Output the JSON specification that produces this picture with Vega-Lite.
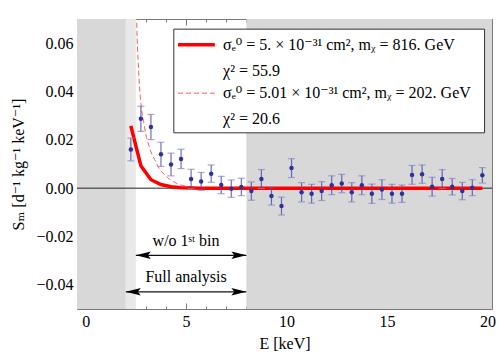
{
  "$schema": "https://vega.github.io/schema/vega-lite/v6.json",
  "width": 415,
  "height": 290,
  "autosize": {"type": "none"},
  "padding": {"left": 77, "top": 19, "right": 6, "bottom": 47},
  "config": {
    "view": {"stroke": null},
    "font": "Liberation Serif, DejaVu Serif, serif",
    "axis": {
      "grid": false,
      "domainColor": "#7a7a7a",
      "tickColor": "#7a7a7a",
      "labelColor": "black",
      "titleColor": "black",
      "labelFont": "Liberation Serif, DejaVu Serif, serif",
      "titleFont": "Liberation Serif, DejaVu Serif, serif",
      "labelFontSize": 16,
      "titleFontSize": 16,
      "titleFontWeight": "normal",
      "labelFlush": false,
      "labelOverlap": false,
      "labelBound": false,
      "zindex": 2
    }
  },
  "datasets": {
    "bands": [
      {"x": -0.43, "x2": 2, "y": -0.05, "y2": 0.07, "zone": "excluded"},
      {"x": 2, "x2": 2.5, "y": -0.05, "y2": 0.07, "zone": "first bin"},
      {"x": 8, "x2": 20.23, "y": -0.05, "y2": 0.07, "zone": "excluded"}
    ],
    "zero": [{"x": -0.43, "x2": 20.23, "y": 0}],
    "data": [
      {"x": 2.25, "y": 0.016, "lo": 0.0113, "hi": 0.0207},
      {"x": 2.75, "y": 0.0287, "lo": 0.0235, "hi": 0.0339},
      {"x": 3.25, "y": 0.0253, "lo": 0.0201, "hi": 0.0305},
      {"x": 3.75, "y": 0.014, "lo": 0.009, "hi": 0.019},
      {"x": 4.25, "y": 0.0098, "lo": 0.0051, "hi": 0.0145},
      {"x": 4.75, "y": 0.0121, "lo": 0.0081, "hi": 0.0161},
      {"x": 5.25, "y": 0.0038, "lo": -0.0002, "hi": 0.0078},
      {"x": 5.75, "y": 0.0028, "lo": -0.0009, "hi": 0.0065},
      {"x": 6.25, "y": 0.006, "lo": 0.0024, "hi": 0.0096},
      {"x": 6.75, "y": 0.0013, "lo": -0.0023, "hi": 0.0049},
      {"x": 7.25, "y": -0.0002, "lo": -0.0038, "hi": 0.0034},
      {"x": 7.75, "y": 0.0005, "lo": -0.0031, "hi": 0.0041},
      {"x": 8.25, "y": -0.0012, "lo": -0.005, "hi": 0.0026},
      {"x": 8.75, "y": 0.0038, "lo": -0.0001, "hi": 0.0077},
      {"x": 9.25, "y": -0.0032, "lo": -0.007, "hi": 0.0006},
      {"x": 9.75, "y": -0.0074, "lo": -0.0111, "hi": -0.0037},
      {"x": 10.25, "y": 0.0083, "lo": 0.0044, "hi": 0.0122},
      {"x": 10.75, "y": -0.0017, "lo": -0.0057, "hi": 0.0023},
      {"x": 11.25, "y": -0.0023, "lo": -0.0062, "hi": 0.0016},
      {"x": 11.75, "y": -0.0012, "lo": -0.0051, "hi": 0.0027},
      {"x": 12.25, "y": 0.0012, "lo": -0.0027, "hi": 0.0051},
      {"x": 12.75, "y": 0.0019, "lo": -0.0019, "hi": 0.0057},
      {"x": 13.25, "y": -0.0017, "lo": -0.0057, "hi": 0.0023},
      {"x": 13.75, "y": 0.0012, "lo": -0.0027, "hi": 0.0051},
      {"x": 14.25, "y": -0.0023, "lo": -0.0063, "hi": 0.0017},
      {"x": 14.75, "y": -0.0006, "lo": -0.0047, "hi": 0.0035},
      {"x": 15.25, "y": -0.0023, "lo": -0.0062, "hi": 0.0016},
      {"x": 15.75, "y": -0.0023, "lo": -0.0059, "hi": 0.0013},
      {"x": 16.25, "y": 0.0055, "lo": 0.0016, "hi": 0.0094},
      {"x": 16.75, "y": 0.0058, "lo": 0.002, "hi": 0.0096},
      {"x": 17.25, "y": 0.0006, "lo": -0.0033, "hi": 0.0045},
      {"x": 17.75, "y": 0.0038, "lo": -0.0001, "hi": 0.0077},
      {"x": 18.25, "y": 0.0006, "lo": -0.0028, "hi": 0.004},
      {"x": 18.75, "y": -0.0012, "lo": -0.0048, "hi": 0.0024},
      {"x": 19.25, "y": 0.0002, "lo": -0.0031, "hi": 0.0035},
      {"x": 19.75, "y": 0.0053, "lo": 0.0021, "hi": 0.0085}
    ],
    "fit816": [
      {"x": 2.25, "y": 0.0258}, {"x": 2.75, "y": 0.0093}, {"x": 3.25, "y": 0.0035},
      {"x": 3.75, "y": 0.0015}, {"x": 4.25, "y": 0.0006}, {"x": 4.75, "y": 0.0002},
      {"x": 5.25, "y": 0.0001}, {"x": 5.75, "y": 0}, {"x": 6.25, "y": 0},
      {"x": 6.75, "y": 0}, {"x": 7.25, "y": 0}, {"x": 7.75, "y": 0},
      {"x": 8.25, "y": 0}, {"x": 8.75, "y": 0}, {"x": 9.25, "y": 0},
      {"x": 9.75, "y": 0}, {"x": 10.25, "y": 0}, {"x": 10.75, "y": 0},
      {"x": 11.25, "y": 0}, {"x": 11.75, "y": 0}, {"x": 12.25, "y": 0},
      {"x": 12.75, "y": 0}, {"x": 13.25, "y": 0}, {"x": 13.75, "y": 0},
      {"x": 14.25, "y": 0}, {"x": 14.75, "y": 0}, {"x": 15.25, "y": 0},
      {"x": 15.75, "y": 0}, {"x": 16.25, "y": 0}, {"x": 16.75, "y": 0},
      {"x": 17.25, "y": 0}, {"x": 17.75, "y": 0}, {"x": 18.25, "y": 0},
      {"x": 18.75, "y": 0}, {"x": 19.25, "y": 0}, {"x": 19.75, "y": 0}
    ],
    "fit202": [
      {"x": 2.5, "y": 0.085}, {"x": 2.55, "y": 0.066}, {"x": 2.61, "y": 0.053},
      {"x": 2.7, "y": 0.04}, {"x": 2.78, "y": 0.033}, {"x": 2.9, "y": 0.027},
      {"x": 3.0, "y": 0.022}, {"x": 3.1, "y": 0.019}, {"x": 3.25, "y": 0.015},
      {"x": 3.44, "y": 0.0118}, {"x": 3.69, "y": 0.0078}, {"x": 3.94, "y": 0.0055},
      {"x": 4.19, "y": 0.0036}, {"x": 4.35, "y": 0.0028}, {"x": 4.6, "y": 0.0017},
      {"x": 5.0, "y": 0.0008}, {"x": 5.5, "y": 0.0003}, {"x": 6.0, "y": 0.0001},
      {"x": 7.0, "y": 0}, {"x": 10.0, "y": 0}, {"x": 15.0, "y": 0}, {"x": 19.75, "y": 0}
    ],
    "legendbox": [{"x": 4.39, "x2": 19.86, "y": 0.0229, "y2": 0.0658}],
    "legendline": [
      {"x": 4.6, "x2": 6.43, "y": 0.0593, "fit": "816"},
      {"x": 4.6, "x2": 6.43, "y": 0.0393, "fit": "202"}
    ],
    "legendtext": [
      {"x": 6.84, "y": 0.0593, "t": "σₑ⁰ = 5. × 10⁻³¹ cm², mᵪ = 816. GeV"},
      {"x": 6.84, "y": 0.0483, "t": "χ² = 55.9"},
      {"x": 6.84, "y": 0.0393, "t": "σₑ⁰ = 5.01 × 10⁻³¹ cm², mᵪ = 202. GeV"},
      {"x": 6.84, "y": 0.0286, "t": "χ² = 20.6"}
    ],
    "arrows": [
      {"x": 2.5, "x2": 8, "y": -0.0278},
      {"x": 2.0, "x2": 8, "y": -0.0429}
    ],
    "heads": [
      {"x": 2.5, "y": -0.0278, "dir": "left"},
      {"x": 8, "y": -0.0278, "dir": "right"},
      {"x": 2.0, "y": -0.0429, "dir": "left"},
      {"x": 8, "y": -0.0429, "dir": "right"}
    ],
    "notes": [
      {"x": 5.0, "y": -0.022, "t": "w/o 1ˢᵗ bin"},
      {"x": 5.0, "y": -0.0369, "t": "Full analysis"}
    ]
  },
  "encoding": {
    "x": {"field": "x", "type": "quantitative", "scale": {"domain": [-0.43, 20.23], "nice": false, "zero": false}, "axis": null},
    "y": {"field": "y", "type": "quantitative", "scale": {"domain": [-0.05, 0.07], "nice": false, "zero": false}, "axis": null}
  },
  "layer": [
    {
      "data": {"name": "bands"},
      "mark": {"type": "rect"},
      "encoding": {
        "x": {"field": "x", "type": "quantitative", "scale": {"domain": [-0.43, 20.23], "nice": false, "zero": false},
          "axis": {"orient": "bottom", "values": [0, 5, 10, 15, 20], "tickSize": -6, "labelPadding": 10, "title": "E [keV]", "titlePadding": 6}},
        "x2": {"field": "x2"},
        "y": {"field": "y", "type": "quantitative", "scale": {"domain": [-0.05, 0.07], "nice": false, "zero": false},
          "axis": {"orient": "left", "values": [-0.04, -0.02, 0, 0.02, 0.04, 0.06], "format": ".2f", "tickSize": -6, "labelPadding": 10, "title": "Sₘ [d⁻¹ kg⁻¹ keV⁻¹]", "titlePadding": 9}},
        "y2": {"field": "y2"},
        "color": {"field": "zone", "type": "nominal", "scale": {"domain": ["excluded", "first bin"], "range": ["#d8d8d8", "#e9e9e9"]}, "legend": null}
      }
    },
    {
      "data": {"name": "zero"},
      "mark": {"type": "rule", "color": "#222222", "strokeWidth": 1},
      "encoding": {"x2": {"field": "x2"}}
    },
    {
      "data": {"name": "fit202"},
      "mark": {"type": "line", "color": "#ff5a5a", "strokeWidth": 1, "strokeDash": [5, 3], "clip": true, "interpolate": "monotone"},
      "encoding": {}
    },
    {
      "data": {"name": "fit816"},
      "mark": {"type": "line", "color": "#ff0000", "strokeWidth": 3.5, "clip": true},
      "encoding": {}
    },
    {
      "data": {"name": "data"},
      "mark": {"type": "rule", "color": "#4b4ba6", "opacity": 0.8, "strokeWidth": 1.2},
      "encoding": {
        "x": {"field": "x", "type": "quantitative", "scale": {"domain": [-0.43, 20.23], "nice": false, "zero": false},
          "axis": {"orient": "top", "values": [0, 5, 10, 15, 20], "tickSize": -6, "labels": false, "title": null}},
        "y": {"field": "lo", "type": "quantitative", "scale": {"domain": [-0.05, 0.07], "nice": false, "zero": false},
          "axis": {"orient": "right", "values": [-0.04, -0.02, 0, 0.02, 0.04, 0.06], "tickSize": -6, "labels": false, "title": null}},
        "y2": {"field": "hi"}
      }
    },
    {
      "data": {"name": "data"},
      "mark": {"type": "tick", "orient": "horizontal", "color": "#8585c4", "size": 7, "thickness": 1.2},
      "encoding": {"y": {"field": "lo", "type": "quantitative", "scale": {"domain": [-0.05, 0.07], "nice": false, "zero": false}, "axis": null}}
    },
    {
      "data": {"name": "data"},
      "mark": {"type": "tick", "orient": "horizontal", "color": "#8585c4", "size": 7, "thickness": 1.2},
      "encoding": {"y": {"field": "hi", "type": "quantitative", "scale": {"domain": [-0.05, 0.07], "nice": false, "zero": false}, "axis": null}}
    },
    {
      "data": {"name": "data"},
      "mark": {"type": "point", "filled": true, "color": "#30309a", "size": 20, "opacity": 1},
      "encoding": {
        "x": {"field": "x", "type": "quantitative", "scale": {"domain": [-0.43, 20.23], "nice": false, "zero": false},
          "axis": {"orient": "top", "values": [1, 2, 3, 4, 6, 7, 8, 9, 11, 12, 13, 14, 16, 17, 18, 19], "tickSize": -3, "labels": false, "domain": false, "title": null}},
        "y": {"field": "y", "type": "quantitative", "scale": {"domain": [-0.05, 0.07], "nice": false, "zero": false},
          "axis": {"orient": "right", "values": [-0.045, -0.035, -0.03, -0.025, -0.015, -0.01, -0.005, 0.005, 0.01, 0.015, 0.025, 0.03, 0.035, 0.045, 0.05, 0.055, 0.065], "tickSize": -3, "labels": false, "domain": false, "title": null}}
      }
    },
    {
      "data": {"name": "legendbox"},
      "mark": {"type": "rect", "fill": "white", "stroke": "#333333", "strokeWidth": 1},
      "encoding": {
        "x": {"field": "x", "type": "quantitative", "scale": {"domain": [-0.43, 20.23], "nice": false, "zero": false},
          "axis": {"orient": "bottom", "values": [1, 2, 3, 4, 6, 7, 8, 9, 11, 12, 13, 14, 16, 17, 18, 19], "tickSize": -3, "labels": false, "domain": false, "title": null}},
        "x2": {"field": "x2"},
        "y": {"field": "y", "type": "quantitative", "scale": {"domain": [-0.05, 0.07], "nice": false, "zero": false},
          "axis": {"orient": "left", "values": [-0.045, -0.035, -0.03, -0.025, -0.015, -0.01, -0.005, 0.005, 0.01, 0.015, 0.025, 0.03, 0.035, 0.045, 0.05, 0.055, 0.065], "tickSize": -3, "labels": false, "domain": false, "title": null}},
        "y2": {"field": "y2"}
      }
    },
    {
      "data": {"name": "legendline"},
      "transform": [{"filter": "datum.fit === '816'"}],
      "mark": {"type": "rule", "color": "#ff0000", "strokeWidth": 3.5},
      "encoding": {"x2": {"field": "x2"}}
    },
    {
      "data": {"name": "legendline"},
      "transform": [{"filter": "datum.fit === '202'"}],
      "mark": {"type": "rule", "color": "#ff5a5a", "strokeWidth": 1, "strokeDash": [5, 3]},
      "encoding": {"x2": {"field": "x2"}}
    },
    {
      "data": {"name": "legendtext"},
      "mark": {"type": "text", "align": "left", "baseline": "middle", "font": "Liberation Serif, DejaVu Serif, serif", "fontSize": 16, "color": "black"},
      "encoding": {"text": {"field": "t"}}
    },
    {
      "data": {"name": "arrows"},
      "mark": {"type": "rule", "color": "#111111", "strokeWidth": 1.3},
      "encoding": {"x2": {"field": "x2"}}
    },
    {
      "data": {"name": "heads"},
      "mark": {"type": "point", "filled": true, "color": "black", "size": 225, "opacity": 1, "strokeWidth": 0},
      "encoding": {
        "shape": {"field": "dir", "type": "nominal", "scale": {"domain": ["left", "right"], "range": ["M0,0L2,-0.5L1.6,0L2,0.5Z", "M0,0L-2,-0.5L-1.6,0L-2,0.5Z"]}, "legend": null}
      }
    },
    {
      "data": {"name": "notes"},
      "mark": {"type": "text", "align": "center", "baseline": "middle", "font": "Liberation Serif, DejaVu Serif, serif", "fontSize": 16, "color": "black"},
      "encoding": {"text": {"field": "t"}}
    }
  ],
  "resolve": {"axis": {"x": "independent", "y": "independent"}}
}
